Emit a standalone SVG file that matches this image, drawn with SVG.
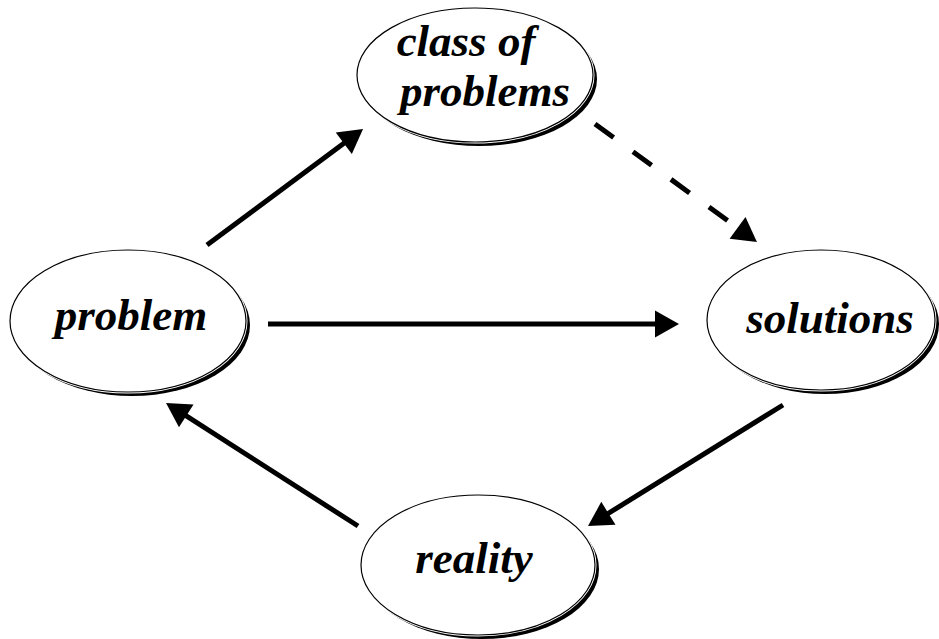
<svg xmlns="http://www.w3.org/2000/svg" width="939" height="639" viewBox="0 0 939 639">
<style>
.shadow{fill:#000}
.halo{fill:#fff;stroke:#fff;stroke-width:3}
.outline{fill:none;stroke:#000;stroke-width:1.2}
.label{fill:#000;text-anchor:middle}
.conn{stroke:#000;stroke-width:5;fill:none;marker-end:url(#arrow)}
.dashed{stroke-dasharray:23 24}
</style>
<defs>
<marker id="arrow" markerUnits="userSpaceOnUse" markerWidth="24" markerHeight="27" refX="6" refY="13.5" orient="auto" overflow="visible">
<path d="M0,0 L24,13.5 L0,27 Z" fill="#000"/>
</marker>
</defs>
<rect width="939" height="639" fill="#fff"/>
<g id="connectors">
<line class="conn" x1="207" y1="245" x2="348.6" y2="139.7"/>
<line class="conn dashed" x1="595" y1="124" x2="742.4" y2="231.4"/>
<line class="conn" x1="268" y1="324" x2="661" y2="324"/>
<line class="conn" x1="783" y1="405" x2="603.3" y2="516.5"/>
<line class="conn" x1="358" y1="526" x2="181.2" y2="412.7"/>
</g>
<g font-family="Liberation Serif, serif" font-weight="bold" font-style="italic" font-size="45">
<g id="node-class">
<ellipse class="shadow" cx="479" cy="79" rx="118" ry="67"/>
<ellipse class="halo" cx="475" cy="75" rx="118" ry="67"/>
<ellipse class="outline" cx="475" cy="75" rx="118" ry="67"/>
<text class="label" x="466" y="56">class of</text>
<text class="label" x="485" y="106">problems</text>
</g>
<g id="node-problem">
<ellipse class="shadow" cx="132" cy="325" rx="118" ry="71"/>
<ellipse class="halo" cx="128" cy="321" rx="118" ry="71"/>
<ellipse class="outline" cx="128" cy="321" rx="118" ry="71"/>
<text class="label" x="131" y="330">problem</text>
</g>
<g id="node-solutions">
<ellipse class="shadow" cx="825" cy="324" rx="114" ry="70"/>
<ellipse class="halo" cx="821" cy="320" rx="114" ry="70"/>
<ellipse class="outline" cx="821" cy="320" rx="114" ry="70"/>
<text class="label" x="830" y="333">solutions</text>
</g>
<g id="node-reality">
<ellipse class="shadow" cx="482" cy="569" rx="117" ry="70"/>
<ellipse class="halo" cx="478" cy="565" rx="117" ry="70"/>
<ellipse class="outline" cx="478" cy="565" rx="117" ry="70"/>
<text class="label" x="474" y="573">reality</text>
</g>
</g>
</svg>
